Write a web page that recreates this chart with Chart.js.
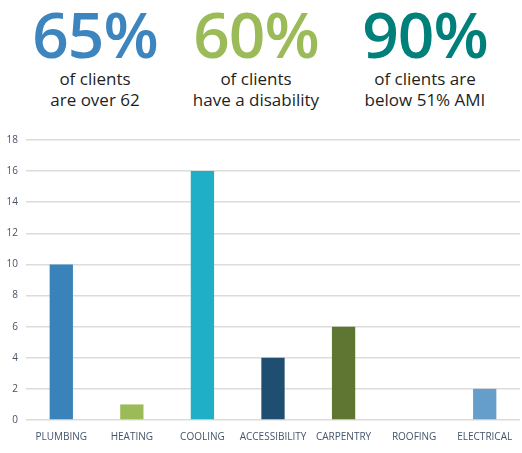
<!DOCTYPE html>
<html>
<head>
<meta charset="utf-8">
<script src="https://cdn.jsdelivr.net/npm/chart.js@4"></script>
<style>
  body { margin: 0; background: #fff; font-family: "Open Sans", sans-serif; }
  #page { position: relative; width: 522px; height: 453px; overflow: hidden; }
  .stat { position: absolute; top: 0; width: 180px; text-align: center; }
  .big { font-size: 64px; font-weight: 600; line-height: 68px; letter-spacing: -1px; }
  .sub { font-size: 17px; line-height: 21px; color: #231f20; }
  #wrap { position: absolute; left: 0; top: 125px; width: 522px; height: 328px; }
</style>
</head>
<body>
<div id="page">
  <div class="stat" style="left:5px"><div class="big" style="color:#3d85be">65%</div><div class="sub">of clients<br>are over 62</div></div>
  <div class="stat" style="left:166px"><div class="big" style="color:#9bbb59">60%</div><div class="sub">of clients<br>have a disability</div></div>
  <div class="stat" style="left:335px"><div class="big" style="color:#00807a">90%</div><div class="sub">of clients are<br>below 51% AMI</div></div>
  <div id="wrap"><canvas id="barChart"></canvas></div>
</div>
<script>
// Chart data
const categories = ["PLUMBING", "HEATING", "COOLING", "ACCESSIBILITY", "CARPENTRY", "ROOFING", "ELECTRICAL"];
const jobCounts = [10, 1, 16, 4, 6, 0, 2];
const barColors = ["#3a83ba", "#9bbb59", "#1fafc6", "#1f4e71", "#5e7632", "#4bacc6", "#659dcb"];

const ctx = document.getElementById("barChart");

window.barChart = new Chart(ctx, {
  type: "bar",
  data: {
    labels: categories,
    datasets: [
      {
        data: jobCounts,
        backgroundColor: barColors,
        borderWidth: 0,
        categoryPercentage: 1,
        barPercentage: 0.33,
      },
    ],
  },
  options: {
    maintainAspectRatio: false,
    animation: false,
    layout: {
      padding: { top: 15, right: 2, left: 0, bottom: 7 },
    },
    plugins: {
      legend: { display: false },
      tooltip: { enabled: false },
    },
    scales: {
      x: {
        grid: { display: false },
        border: { display: false },
        ticks: {
          color: "#44546a",
          font: { family: "Open Sans", size: 10 },
          maxRotation: 0,
          autoSkip: false,
          padding: 3,
        },
      },
      y: {
        min: 0,
        max: 18,
        ticks: {
          stepSize: 2,
          color: "#44546a",
          font: { family: "Open Sans", size: 10 },
          padding: 8,
        },
        grid: { color: "#dcdcdc", lineWidth: 1.5, drawTicks: false },
        border: { display: false },
        afterFit: (scale) => {
          scale.width = 26; // fixed gutter for the tick labels
        },
      },
    },
  },
});
</script>
</body>
</html>
